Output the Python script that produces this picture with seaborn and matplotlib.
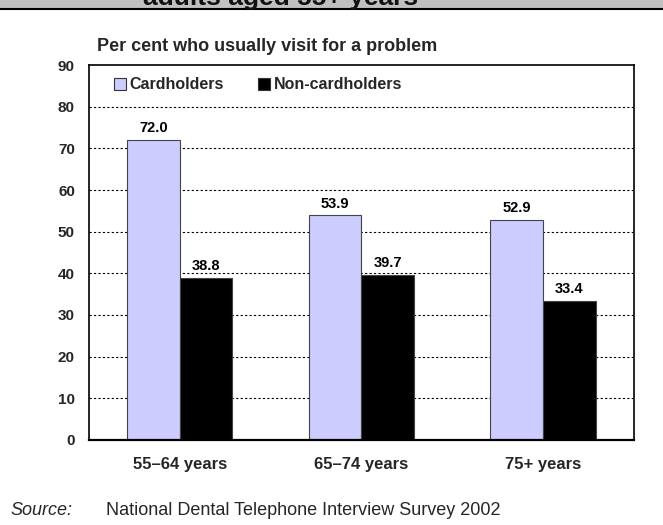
import matplotlib
matplotlib.use("Agg")
import matplotlib.pyplot as plt
import matplotlib.patches as mpatches
import matplotlib.lines as mlines
import seaborn as sns
import pandas as pd

# Data
age_groups = ["55\u201364 years", "65\u201374 years", "75+ years"]
cardholders = [72.0, 53.9, 52.9]
non_cardholders = [38.8, 39.7, 33.4]
series_names = ["Cardholders", "Non-cardholders"]
y_ticks = [0, 10, 20, 30, 40, 50, 60, 70, 80, 90]

df = pd.DataFrame({
    "group": age_groups * 2,
    "status": [series_names[0]] * 3 + [series_names[1]] * 3,
    "value": cardholders + non_cardholders,
})

sns.set_theme(style="white")
plt.rcParams["font.family"] = ["Liberation Sans", "DejaVu Sans"]

colors = {"Cardholders": "#CCCCFF", "Non-cardholders": "#000000"}

fig = plt.figure(figsize=(6.63, 5.25), dpi=100)
ax = fig.add_axes([0.134, 0.162, 0.822, 0.714])

sns.barplot(data=df, x="group", y="value", hue="status", order=age_groups,
            hue_order=series_names, palette=colors, width=0.58,
            edgecolor="#444444", linewidth=0.8, ax=ax, legend=False,
            saturation=1)

# value labels above each bar
for container in ax.containers:
    ax.bar_label(container, fmt="%.1f", padding=3.5, fontsize=10.5,
                 fontweight="bold", color="black")

ax.set_ylim(0, 90)
ax.set_yticks(y_ticks)
ax.set_yticklabels([str(t) for t in y_ticks], fontsize=11, fontweight="bold")
ax.set_xlim(-0.5, 2.5)
ax.tick_params(axis="x", length=0, pad=12, labelsize=12)
ax.tick_params(axis="y", length=0, pad=10)
for lbl in ax.get_xticklabels():
    lbl.set_fontweight("bold")
ax.set_xlabel("")
ax.set_ylabel("")

# dotted gridlines
for t in y_ticks[1:-1]:
    ax.axhline(t, color="black", linestyle=(0, (2, 2)), linewidth=0.8, zorder=0)
ax.set_axisbelow(True)

for side in ["top", "bottom", "left", "right"]:
    ax.spines[side].set_visible(True)
    ax.spines[side].set_color("black")
    ax.spines[side].set_linewidth(1.2)
ax.spines["bottom"].set_linewidth(1.6)

# legend
handles = [mpatches.Patch(facecolor=colors[s], edgecolor="#333333", linewidth=0.8, label=s)
           for s in series_names]
leg = ax.legend(handles=handles, loc="upper left", bbox_to_anchor=(0.034, 0.984),
                borderaxespad=0, ncol=2, frameon=False, handlelength=0.75,
                handleheight=0.75, handletextpad=0.2, columnspacing=2.2,
                prop={"size": 11.5, "weight": "bold"})

# chart heading
fig.text(0.146, 0.912, "Per cent who usually visit for a problem", fontsize=13,
         fontweight="bold", ha="left", va="center")

# banner strip at the top
fig.patches.append(mpatches.Rectangle((0, 0.982), 1, 0.02, transform=fig.transFigure,
                                      facecolor="#C0C0C0", edgecolor="none", zorder=0))
fig.lines.append(mlines.Line2D([0, 1], [0.9823, 0.9823], transform=fig.transFigure,
                               color="black", linewidth=1.5))
fig.text(0.2157, 0.9914, "adults aged 55+ years", fontsize=19, fontweight="bold",
         ha="left", va="baseline", color="#111111")

# source line
fig.text(0.016, 0.027, "Source:", fontsize=13, fontstyle="italic", ha="left", va="center")
fig.text(0.16, 0.027, "National Dental Telephone Interview Survey 2002", fontsize=13,
         ha="left", va="center")

fig.savefig("out.png", dpi=100)
